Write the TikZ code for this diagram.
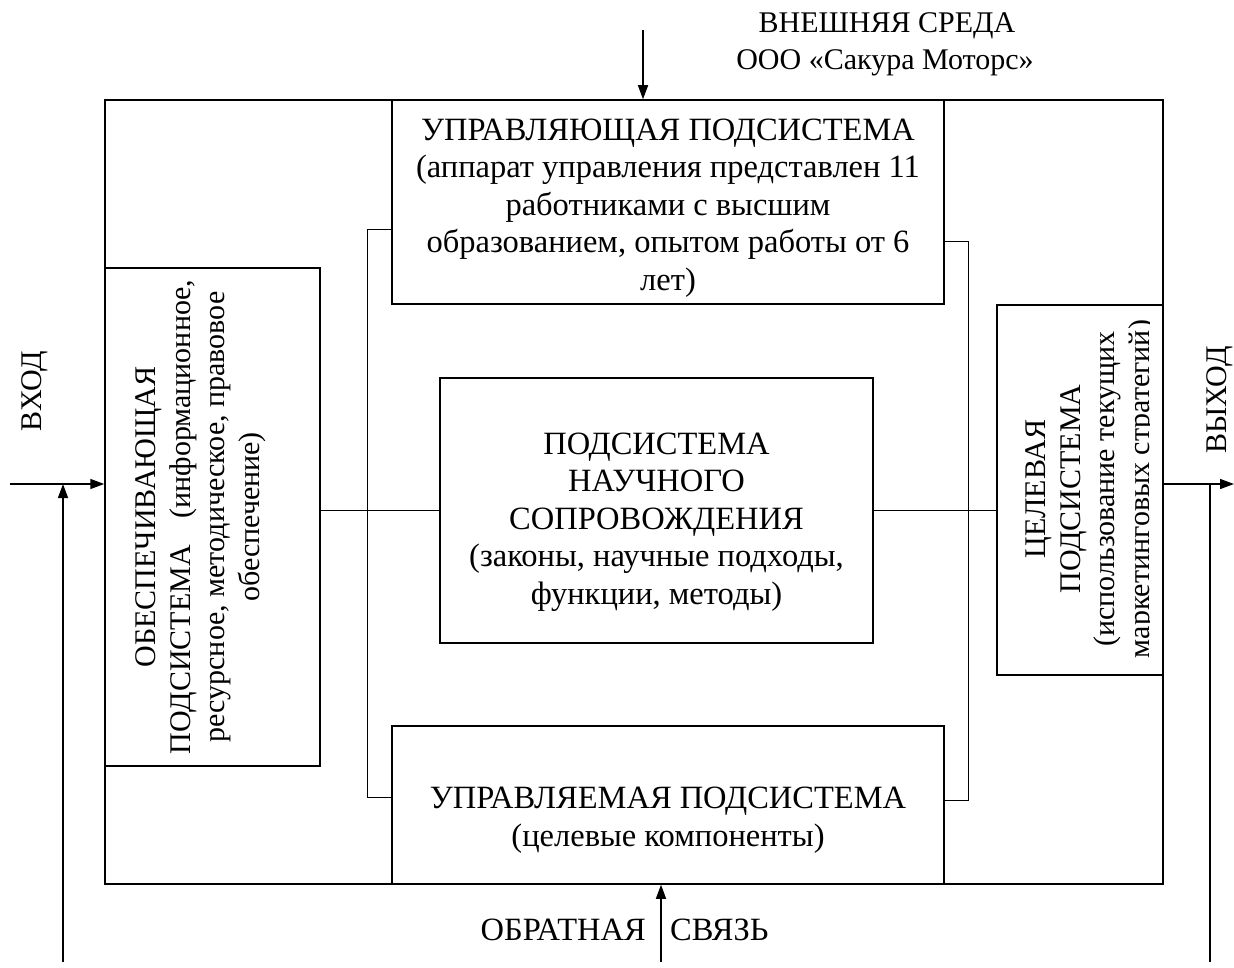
\documentclass[tikz,border=0pt]{standalone}
\usepackage{fontspec}
\setmainfont{Liberation Serif}
\usetikzlibrary{arrows.meta}
\begin{document}
\begin{tikzpicture}[x=1pt,y=-1pt,
  box/.style={draw, line width=1.5pt, inner sep=0pt},
  txt/.style={align=center, inner sep=0pt, font=\fontsize{32.5}{37.5}\selectfont},
  etxt/.style={align=center, inner sep=0pt, font=\fontsize{30}{37.5}\selectfont},
  rtxt/.style={align=center, inner sep=0pt, rotate=90, font=\fontsize{30}{34.5}\selectfont},
  link/.style={line width=1pt},
  wire/.style={line width=1.5pt},
  arr/.style={line width=1.5pt, -{Triangle[length=14pt,width=10pt]}}]
\useasboundingbox (0,0) rectangle (1234,968);
% boxes
\node[box, minimum width=1058pt, minimum height=784pt] (outer) at (634,492) {};
\node[box, minimum width=552pt, minimum height=204pt] (topbox) at (668,202) {};
\node[box, minimum width=215pt, minimum height=498pt] (leftbox) at (212.5,517) {};
\node[box, minimum width=433pt, minimum height=265pt] (center) at (656.5,510.5) {};
\node[box, minimum width=166pt, minimum height=370pt] (rightbox) at (1080,490) {};
\node[box, minimum width=552pt, minimum height=158pt] (botbox) at (668,805) {};
% texts
\node[txt] (toptext) at (668,208) {УПРАВЛЯЮЩАЯ ПОДСИСТЕМА\\(аппарат управления представлен 11\\работниками с высшим\\образованием, опытом работы от 6\\лет)};
\node[txt] (centertext) at (656.5,522) {ПОДСИСТЕМА\\НАУЧНОГО\\СОПРОВОЖДЕНИЯ\\(законы, научные подходы,\\функции, методы)};
\node[txt] (bottext) at (668,820) {УПРАВЛЯЕМАЯ ПОДСИСТЕМА\\(целевые компоненты)};
\node[rtxt] (lefttext) at (201,517) {ОБЕСПЕЧИВАЮЩАЯ\\ПОДСИСТЕМА\hspace{0.9em}(информационное,\\ресурсное, методическое, правовое\\обеспечение)};
\begin{scope}
\clip (997,305) rectangle (1149,675);
\node[rtxt] (righttext) at (1091,489) {ЦЕЛЕВАЯ\\ПОДСИСТЕМА\\(использование текущих\\маркетинговых стратегий)};
\end{scope}
\node[etxt] (env1) at (887,26) {ВНЕШНЯЯ СРЕДА};
\node[etxt] (env2) at (885,63) {ООО «Сакура Моторс»};
\node[txt, anchor=east] (fb1) at (646,930) {ОБРАТНАЯ};
\node[txt, anchor=west] (fb2) at (670,930) {СВЯЗЬ};
\node[rtxt] (vhod) at (35,391) {ВХОД};
\node[rtxt] (vyhod) at (1220,400) {ВЫХОД};
% inner connectors
\coordinate (cl1) at (367,230);
\coordinate (cl2) at (367,797);
\coordinate (cr1) at (968,242);
\coordinate (cr2) at (968,800);
\draw[link] (cl1 -| topbox.west) -- (cl1) -- (cl2) -- (cl2 -| botbox.west);
\draw[link] (cr1 -| topbox.east) -- (cr1) -- (cr2) -- (cr2 -| botbox.east);
\draw[link] (leftbox.east |- center.west) -- (center.west);
\draw[link] (center.east) -- (center.east -| rightbox.west);
% outer arrows
\coordinate (inS) at (10,484);
\coordinate (fbL) at (63,962);
\draw[arr] (inS) -- (inS -| outer.west);
\draw[arr] (fbL) -- (fbL |- inS);
\coordinate (outE) at (1234,484);
\coordinate (fbR) at (1210,962);
\draw[arr] (outE -| rightbox.east) -- (outE);
\draw[wire] (fbR |- outE) -- (fbR);
\coordinate (envT) at (643,30);
\draw[arr] (envT) -- (envT |- outer.north);
\coordinate (fbB) at (661,962);
\draw[arr] (fbB) -- (fbB |- outer.south);
\end{tikzpicture}
\end{document}
